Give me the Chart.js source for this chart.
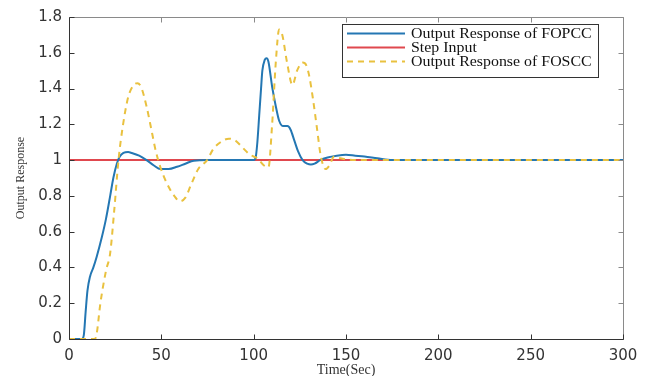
<!DOCTYPE html>
<html>
<head>
<meta charset="utf-8">
<script src="https://cdn.jsdelivr.net/npm/chart.js@4.4.1/dist/chart.umd.min.js"></script>
<style>
html,body{margin:0;padding:0;background:#fff;}
#wrap{width:658px;height:376px;position:relative;}
</style>
</head>
<body>
<div id="wrap"><canvas id="c" width="658" height="376"></canvas></div>
<script>
// ---- data ----
const fopccTime = [0,7,8,9,10,11.4,13.2,15,17.8,20,22.3,24,25.9,27.5,29.5,32,34,38,42,46,49.5,54,58.5,63,67.6,75,85,95,100,101,102,103,104,104.7,106,107,108,110,112,113.8,116,118.3,120,122,124,126.5,129,131,133,136,140,145,150,155,160,167,175,200,250,300];
const fopccValue = [0,0,0.02,0.15,0.27,0.35,0.4,0.46,0.57,0.67,0.8,0.9,0.98,1.02,1.04,1.045,1.04,1.025,1.0,0.97,0.95,0.95,0.963,0.98,0.997,1.0,1.0,1.0,1.0,1.01,1.1,1.25,1.4,1.5,1.56,1.57,1.55,1.41,1.3,1.22,1.19,1.19,1.17,1.11,1.05,1.0,0.98,0.975,0.98,1.0,1.015,1.025,1.03,1.025,1.02,1.01,1.0,1.0,1.0,1.0];
const stepTime = [0,300];
const stepValue = [1,1];
const fosccTime = [0,13,14,15,17,20,22.3,24.5,26.8,29,32,35,37,39,42,45,47,49.5,53,57,60,63,66,70,74.8,78,82,86.6,90,94,98,102,105.6,108,110,112,113.8,115.5,118,121,123.5,126.5,128.5,130,132,134,136.4,139,141,143.6,147,155,170,300];
const fosccValue = [0,0,0,0.03,0.2,0.38,0.48,0.72,1.0,1.18,1.35,1.42,1.43,1.41,1.3,1.15,1.05,0.96,0.87,0.8,0.77,0.79,0.86,0.95,1.0,1.06,1.1,1.12,1.11,1.07,1.03,1.01,0.97,0.96,1.2,1.55,1.73,1.7,1.55,1.42,1.5,1.545,1.53,1.475,1.35,1.2,1.02,0.95,0.97,1.02,1.01,1.0,1.0,1.0];
const seriesLabels = ['Output Response of FOPCC','Step Input','Output Response of FOSCC'];
const xTicks = [0,50,100,150,200,250,300];
const yTicks = [0,0.2,0.4,0.6,0.8,1,1.2,1.4,1.6,1.8];
const xTitle = 'Time(Sec)';
const yTitle = 'Output Response';

const toPts = (t, v) => t.map((x, i) => ({x, y: v[i]}));

const boxTicks = {
  id: 'boxTicks',
  afterDatasetsDraw(chart) {
    const {ctx, chartArea: a, scales} = chart;
    ctx.save();
    const L = Math.round(a.left) + 0.5, R = Math.round(a.right) + 0.5, T = Math.round(a.top) + 0.5, B = Math.round(a.bottom) + 0.5;
    // top / right (lighter)
    ctx.lineWidth = 1;
    ctx.strokeStyle = '#8a8a8a';
    ctx.beginPath();
    ctx.moveTo(L, T); ctx.lineTo(R, T); ctx.lineTo(R, B);
    scales.x.ticks.forEach(t => {
      const px = Math.round(scales.x.getPixelForValue(t.value)) + 0.5;
      ctx.moveTo(px, T); ctx.lineTo(px, T + 5);
    });
    scales.y.ticks.forEach(t => {
      const py = Math.round(scales.y.getPixelForValue(t.value)) + 0.5;
      ctx.moveTo(R, py); ctx.lineTo(R - 5, py);
    });
    ctx.stroke();
    // left / bottom (darker)
    ctx.strokeStyle = '#333';
    ctx.beginPath();
    ctx.moveTo(L, T); ctx.lineTo(L, B); ctx.lineTo(R, B);
    scales.x.ticks.forEach(t => {
      const px = Math.round(scales.x.getPixelForValue(t.value)) + 0.5;
      ctx.moveTo(px, B); ctx.lineTo(px, B - 5);
    });
    scales.y.ticks.forEach(t => {
      const py = Math.round(scales.y.getPixelForValue(t.value)) + 0.5;
      ctx.moveTo(L, py); ctx.lineTo(L + 5, py);
    });
    ctx.stroke();
    // legend
    const lx = 342.5, ly = 24.5, lw = 256, lh = 53;
    ctx.fillStyle = '#fff';
    ctx.fillRect(lx, ly, lw, lh);
    ctx.strokeStyle = '#333';
    ctx.strokeRect(lx, ly, lw, lh);
    ctx.textBaseline = 'middle';
    chart.data.datasets.forEach((ds, i) => {
      const y = 33.5 + i * 14;
      ctx.strokeStyle = ds.borderColor;
      ctx.lineWidth = 2;
      ctx.setLineDash(ds.borderDash || []);
      ctx.beginPath(); ctx.moveTo(347, y); ctx.lineTo(405, y); ctx.stroke();
      ctx.setLineDash([]);
      ctx.save();
      ctx.translate(411, y + 0.5);
      ctx.scale(1.06, 1);
      ctx.font = '15px "Liberation Serif"';
      ctx.fillStyle = '#111';
      ctx.fillText(ds.label, 0, 0);
      ctx.restore();
    });
    ctx.restore();
  }
};

new Chart(document.getElementById('c'), {
  type: 'line',
  data: {
    datasets: [
      {label: seriesLabels[0], data: toPts(fopccTime, fopccValue), borderColor: '#2477b3', borderWidth: 2, pointRadius: 0, cubicInterpolationMode: 'monotone', order: 1},
      {label: seriesLabels[1], data: toPts(stepTime, stepValue), borderColor: '#e0484e', borderWidth: 2, pointRadius: 0, order: 2},
      {label: seriesLabels[2], data: toPts(fosccTime, fosccValue), borderColor: '#e9c13f', borderWidth: 2, borderDash: [6, 5], pointRadius: 0, cubicInterpolationMode: 'monotone', order: 0}
    ]
  },
  options: {
    responsive: false,
    animation: false,
    layout: {padding: {top: 17, right: 35, left: 0, bottom: 0}},
    plugins: {legend: {display: false}, tooltip: {enabled: false}},
    scales: {
      x: {
        type: 'linear', min: 0, max: 300,
        afterBuildTicks: s => { s.ticks = xTicks.map(v => ({value: v})); },
        afterFit: s => { s.height = 37; },
        grid: {display: false, drawTicks: false},
        border: {display: false},
        ticks: {font: {family: 'DejaVu Sans', size: 15}, color: '#333', padding: 8, maxRotation: 0},
        title: {display: true, text: xTitle, font: {family: 'Liberation Serif', size: 14}, color: '#333', padding: {top: 0, bottom: -3}}
      },
      y: {
        type: 'linear', min: 0, max: 1.8,
        afterBuildTicks: s => { s.ticks = yTicks.map(v => ({value: v})); },
        afterFit: s => { s.width = 69; },
        grid: {display: false, drawTicks: false},
        border: {display: false},
        ticks: {font: {family: 'DejaVu Sans', size: 15}, color: '#333', padding: 7, callback: v => String(v)},
        title: {display: true, text: yTitle, font: {family: 'Liberation Serif', size: 12}, color: '#333', padding: {top: 14, bottom: 0}}
      }
    }
  },
  plugins: [boxTicks]
});
</script>
</body>
</html>
